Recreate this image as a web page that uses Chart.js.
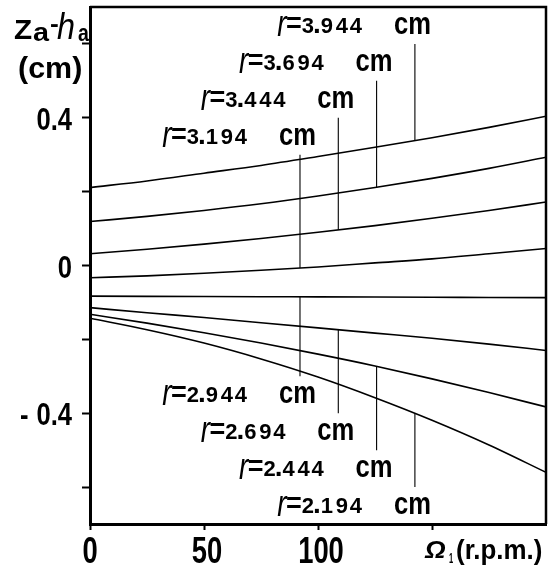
<!DOCTYPE html>
<html>
<head>
<meta charset="utf-8">
<script src="https://cdn.jsdelivr.net/npm/chart.js@4.4.0/dist/chart.umd.min.js"></script>
<style>
  html, body { margin: 0; padding: 0; background: #fff; }
  #c { display: block; }
</style>
</head>
<body>
<canvas id="c" width="548" height="570"></canvas>
<script>
// Rotation speed (r.p.m.)
const omega = [0, 25, 50, 75, 100, 125, 150, 175, 200];

// Radius of each curve (cm)
const radii = ['3.944', '3.694', '3.444', '3.194', '2.944', '2.694', '2.444', '2.194'];

// za - ha (cm) for each radius
const z3944 = [0.211, 0.229, 0.250, 0.271, 0.295, 0.320, 0.346, 0.374, 0.404];
const z3694 = [0.119, 0.133, 0.149, 0.167, 0.188, 0.211, 0.236, 0.263, 0.293];
const z3444 = [0.032, 0.044, 0.058, 0.073, 0.090, 0.108, 0.128, 0.149, 0.172];
const z3194 = [-0.033, -0.028, -0.021, -0.013, -0.004, 0.007, 0.018, 0.032, 0.046];
const z2944 = [-0.083, -0.0835, -0.084, -0.0845, -0.085, -0.0855, -0.086, -0.0865, -0.087];
const z2694 = [-0.114, -0.128, -0.141, -0.155, -0.169, -0.183, -0.197, -0.213, -0.230];
const z2444 = [-0.132, -0.156, -0.182, -0.210, -0.240, -0.272, -0.307, -0.344, -0.383];
const z2194 = [-0.143, -0.174, -0.210, -0.253, -0.302, -0.358, -0.419, -0.486, -0.560];

// Leader lines tying each radius label to its curve
const leaderOmega = [142.5, 125.7, 108.9, 92.1, 92.1, 108.9, 125.7, 142.5];
const leaderFrom  = [0.339, 0.210, 0.097, -0.007, -0.084, -0.174, -0.273, -0.401];
const leaderTo    = [0.6, 0.5, 0.4, 0.3, -0.3, -0.4, -0.5, -0.6];

// Axis ticks
const xTicks = [0, 50, 100, 150];
const xTickLabels = ['0', '50', '100', ''];
const yTicks = [-0.6, -0.4, -0.2, 0, 0.2, 0.4, 0.6];
const yTickLabels = ['', '-0.4', '', '0', '', '0.4', ''];

const series = [z3944, z3694, z3444, z3194, z2944, z2694, z2444, z2194];

const SANS = '"Liberation Sans", "DejaVu Sans", sans-serif';

const curveSets = series.map((s, i) => ({
  label: 'r=' + radii[i] + ' cm',
  data: omega.map((x, j) => ({ x: x, y: s[j] })),
  borderColor: '#000',
  borderWidth: 1.6,
  pointRadius: 0,
  fill: false,
  cubicInterpolationMode: 'monotone'
}));

const leaderSets = leaderOmega.map((x, i) => ({
  label: 'leader ' + radii[i],
  data: [{ x: x, y: leaderFrom[i] }, { x: x, y: leaderTo[i] }],
  borderColor: '#000',
  borderWidth: 1.1,
  pointRadius: 0,
  fill: false
}));

// Draw text scaled horizontally; returns drawn width
function squeezed(ctx, text, x, y, font, sx, align) {
  ctx.font = font;
  const w = ctx.measureText(text).width * sx;
  let left = x;
  if (align === 'right') left = x - w;
  else if (align === 'center') left = x - w / 2;
  ctx.save();
  ctx.translate(left, y);
  ctx.scale(sx, 1);
  ctx.textAlign = 'left';
  ctx.fillText(text, 0, 0);
  ctx.restore();
  return w;
}

// "r=x.xxx cm" label, laid out leftwards from its right edge R
function radiusLabel(ctx, r, R, base) {
  squeezed(ctx, 'cm', R, base + 1, 'bold 32px ' + SANS, 0.8, 'right');
  const digits = r.replace('.', '');
  const dfont = 'bold 22px ' + SANS;
  // last three digits spaced apart, first digit and point set close
  squeezed(ctx, digits[3], R - 75, base, dfont, 1, 'center');
  squeezed(ctx, digits[2], R - 89, base, dfont, 1, 'center');
  squeezed(ctx, digits[1], R - 104, base, dfont, 1, 'center');
  squeezed(ctx, '.', R - 114, base, 'bold 28px ' + SANS, 1, 'center');
  squeezed(ctx, digits[0], R - 123, base, dfont, 1, 'center');
  squeezed(ctx, '=', R - 137, base - 1, 'bold 27px ' + SANS, 1.0, 'center');
  squeezed(ctx, 'r', R - 149, base + 3, 'italic 37px ' + SANS, 0.75, 'center');
}

// Tick labels, radius labels, axis titles and the closing frame
const annotations = {
  id: 'annotations',
  afterDraw(chart) {
    const ctx = chart.ctx;
    const xs = chart.scales.x, ys = chart.scales.y;
    const area = chart.chartArea;
    ctx.save();
    ctx.fillStyle = '#000';
    ctx.strokeStyle = '#000';
    ctx.textBaseline = 'alphabetic';

    // top and right frame
    ctx.lineWidth = 2.5;
    ctx.beginPath();
    ctx.moveTo(area.left, area.top);
    ctx.lineTo(area.right, area.top);
    ctx.lineTo(area.right, area.bottom);
    ctx.stroke();

    // y tick labels
    yTicks.forEach((v, i) => {
      const t = yTickLabels[i];
      if (!t) return;
      const py = ys.getPixelForValue(v);
      if (t.startsWith('-')) {
        const w = squeezed(ctx, t.slice(1), 72, py + 12, 'bold 32px ' + SANS, 0.8, 'right');
        squeezed(ctx, '-', 72 - w - 8, py + 12, 'bold 32px ' + SANS, 0.8, 'right');
      } else {
        squeezed(ctx, t, 72, py + 12, 'bold 32px ' + SANS, 0.8, 'right');
      }
    });

    // x tick labels
    xTicks.forEach((v, i) => {
      const t = xTickLabels[i];
      if (!t) return;
      const px = xs.getPixelForValue(v);
      squeezed(ctx, t, px + (t.length > 1 ? 3 : 0), 563, 'bold 36px ' + SANS, 0.76, 'center');
    });

    // radius labels
    radii.forEach((r, i) => {
      const lx = xs.getPixelForValue(leaderOmega[i]);
      const ly = ys.getPixelForValue(leaderTo[i]);
      const base = leaderTo[i] > 0 ? ly - 11 : ly + 26;
      radiusLabel(ctx, r, lx + 16, base);
    });

    // y-axis title: za-ha (cm)
    squeezed(ctx, 'Z', 14, 39, 'bold 27px ' + SANS, 1.1, 'left');
    squeezed(ctx, 'a', 33, 41, 'bold 25px ' + SANS, 1.15, 'left');
    squeezed(ctx, '-', 50, 32, 'bold 24px ' + SANS, 1.1, 'left');
    squeezed(ctx, 'h', 57, 39, 'italic 36px ' + SANS, 0.9, 'left');
    squeezed(ctx, 'a', 78, 41, 'bold 23px ' + SANS, 0.85, 'left');

    squeezed(ctx, '(cm)', 18, 78, 'bold 29px ' + SANS, 1.05, 'left');

    // x-axis title: Ω1 (r.p.m.)
    squeezed(ctx, '\u03A9', 425, 558, 'italic bold 24px ' + SANS, 1.1, 'left');
    squeezed(ctx, '1', 449, 563, 'bold 15px ' + SANS, 0.5, 'left');
    squeezed(ctx, '(r.p.m.)', 456, 559, 'bold 27px ' + SANS, 0.96, 'left');

    ctx.restore();
  }
};

new Chart(document.getElementById('c'), {
  type: 'line',
  data: { datasets: curveSets.concat(leaderSets) },
  options: {
    responsive: false,
    animation: false,
    devicePixelRatio: 1,
    layout: { padding: { left: 0, right: 2, top: 7, bottom: 0 } },
    plugins: { legend: { display: false }, tooltip: { enabled: false } },
    scales: {
      x: {
        type: 'linear',
        min: 0,
        max: 200,
        afterBuildTicks: s => { s.ticks = xTicks.map(v => ({ value: v })); },
        afterFit: s => { s.height = 46; s.paddingLeft = 0; s.paddingRight = 0; },
        ticks: { display: false },
        grid: { drawOnChartArea: false, drawTicks: true, tickLength: 6, tickWidth: 2, color: '#000' },
        border: { display: true, color: '#000', width: 3 }
      },
      y: {
        type: 'linear',
        min: -0.7,
        max: 0.7,
        afterBuildTicks: s => { s.ticks = yTicks.map(v => ({ value: v })); },
        afterFit: s => { s.width = 90; s.paddingTop = 0; s.paddingBottom = 0; },
        ticks: { display: false },
        grid: { drawOnChartArea: false, drawTicks: true, tickLength: 8, tickWidth: 2, color: '#000' },
        border: { display: true, color: '#000', width: 3 }
      }
    }
  },
  plugins: [annotations]
});
</script>
</body>
</html>
